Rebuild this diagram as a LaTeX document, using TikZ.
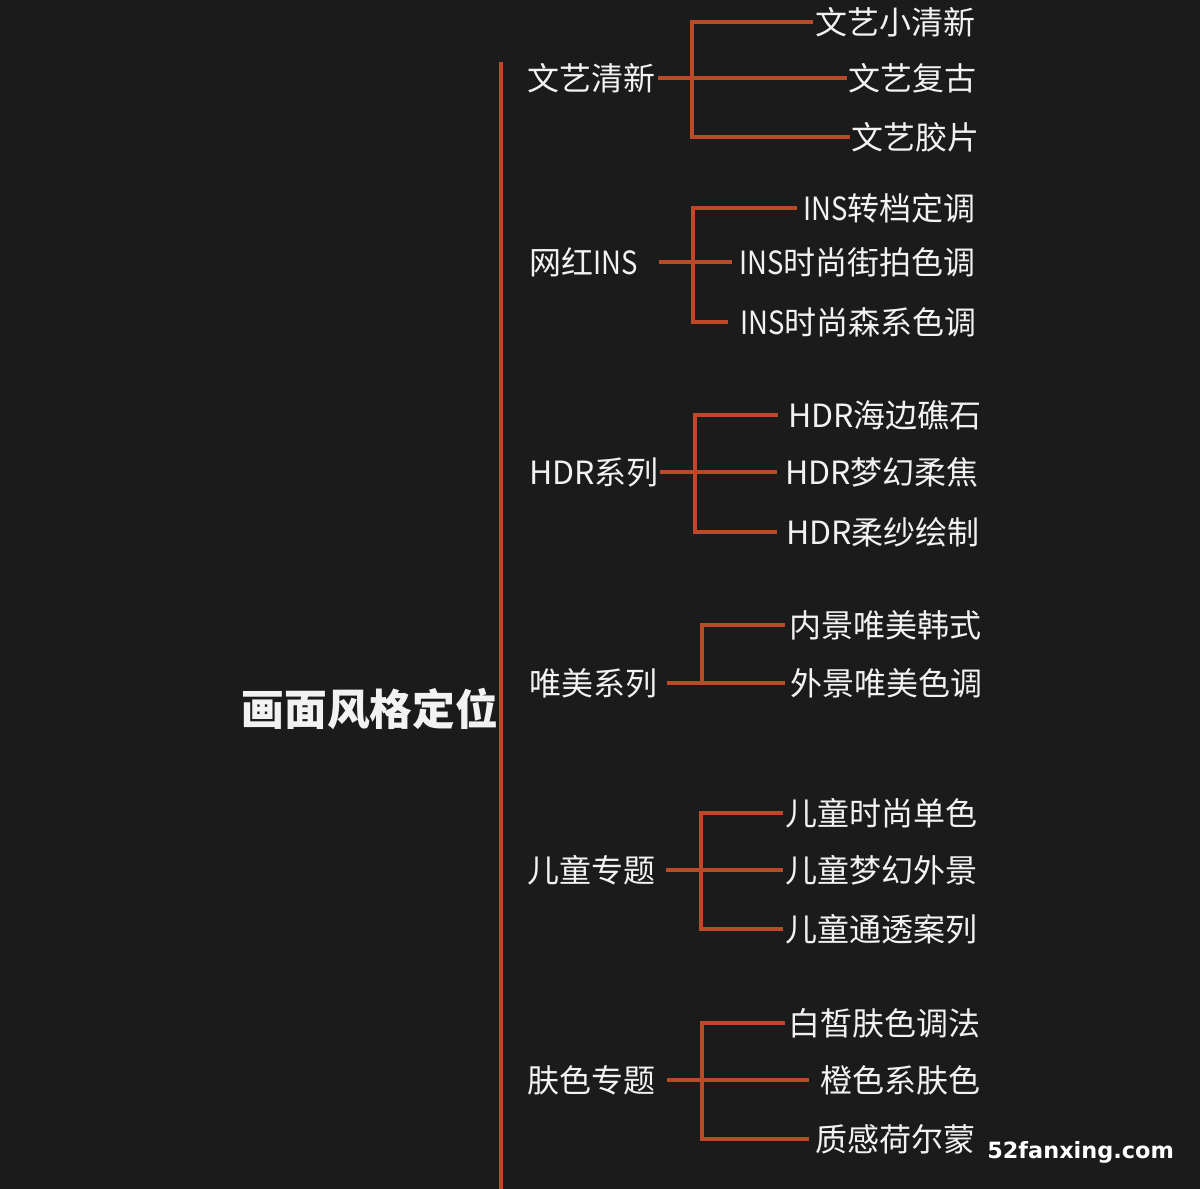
\documentclass[tikz,border=0pt]{standalone}
\usepackage{fontspec}
\usepackage{graphicx}
\newfontfamily\cjk{Noto Sans CJK SC}
\newfontfamily\wmfont{DejaVu Sans}
\definecolor{bgdark}{RGB}{27,27,27}
\definecolor{lineorange}{RGB}{186,74,40}
\definecolor{txtwhite}{RGB}{242,242,242}
\newcommand\insword{\scalebox{0.86}[1]{INS}}
\begin{document}
\begin{tikzpicture}[x=0.75pt,y=-0.75pt,
  conn/.style={draw=lineorange, line width=2.3pt, line join=miter, line cap=butt},
  titlebox/.style={font=\cjk\bfseries\fontsize{32pt}{36pt}\selectfont, text=txtwhite, inner sep=0pt, anchor=east},
  cat/.style={font=\cjk\fontsize{24pt}{28pt}\selectfont, text=txtwhite, inner xsep=0pt, inner ysep=1pt, anchor=west, text width=#1, align=left},
  leaf/.style={font=\cjk\fontsize{24pt}{28pt}\selectfont, text=txtwhite, inner ysep=1pt, anchor=west, inner xsep=#1},
  leaf/.default=1.5pt,
  wmark/.style={font=\wmfont\bfseries\fontsize{16.8pt}{18pt}\selectfont, text=white, anchor=base west, inner sep=0pt}]
\path[use as bounding box, fill=bgdark] (0,0) rectangle (1200,1189);

% main spine
\coordinate (mtop) at (501,62);
\coordinate (mbot) at (501,1189);
\draw[conn] (mtop) -- (mbot);
\node[titlebox] (title) at (498,709) {画面风格定位};

% group 1
\node[cat=97.5pt] (g1) at (527,78) {文艺清新};
\node[leaf=1.5pt] (g1a) at (813,22) {文艺小清新};
\node[leaf=0.75pt] (g1b) at (847,78) {文艺复古};
\node[leaf=0.75pt] (g1c) at (850,137) {文艺胶片};
\coordinate (g1k) at (692,78);
\draw[conn] (g1.east) -- (g1b.west);
\draw[conn] (g1a.west) -- (g1a.west -| g1k) -- (g1c.west -| g1k) -- (g1c.west);

% group 2
\node[cat=96.75pt] (g2) at (529,262) {网红\insword};
\node[leaf=4.5pt] (g2a) at (797,208) {\insword 转档定调};
\node[leaf=5.25pt] (g2b) at (732,262) {\insword 时尚街拍色调};
\node[leaf=9pt] (g2c) at (728,322) {\insword 时尚森系色调};
\coordinate (g2k) at (693,262);
\draw[conn] (g2.east) -- (g2b.west);
\draw[conn] (g2a.west) -- (g2a.west -| g2k) -- (g2c.west -| g2k) -- (g2c.west);

% group 3
\node[cat=97.5pt] (g3) at (529,472) {HDR系列};
\node[leaf=7.5pt] (g3a) at (778,415) {HDR海边礁石};
\node[leaf=6pt] (g3b) at (777,472) {HDR梦幻柔焦};
\node[leaf=6.75pt] (g3c) at (777,532) {HDR柔纱绘制};
\coordinate (g3k) at (695,472);
\draw[conn] (g3.east) -- (g3b.west);
\draw[conn] (g3a.west) -- (g3a.west -| g3k) -- (g3c.west -| g3k) -- (g3c.west);

% group 4
\node[cat=102.75pt] (g4) at (529,683) {唯美系列};
\node[leaf=3pt] (g4a) at (785,625) {内景唯美韩式};
\node[leaf=3.75pt] (g4b) at (785,683) {外景唯美色调};
\coordinate (g4k) at (702,683);
\draw[conn] (g4.east) -- (g4b.west);
\draw[conn] (g4a.west) -- (g4a.west -| g4k) -- (g4k);

% group 5
\node[cat=103.5pt] (g5) at (527,870) {儿童专题};
\node[leaf=1.5pt] (g5a) at (783,813) {儿童时尚单色};
\node[leaf=1.5pt] (g5b) at (783,870) {儿童梦幻外景};
\node[leaf=1.5pt] (g5c) at (783,929) {儿童通透案列};
\coordinate (g5k) at (701,870);
\draw[conn] (g5.east) -- (g5b.west);
\draw[conn] (g5a.west) -- (g5a.west -| g5k) -- (g5c.west -| g5k) -- (g5c.west);

% group 6
\node[cat=104.25pt] (g6) at (527,1080) {肤色专题};
\node[leaf=2.25pt] (g6a) at (785,1023) {白皙肤色调法};
\node[leaf=8.25pt] (g6b) at (809,1080) {橙色系肤色};
\node[leaf=4.5pt] (g6c) at (809,1139) {质感荷尔蒙};
\coordinate (g6k) at (702,1080);
\draw[conn] (g6.east) -- (g6b.west);
\draw[conn] (g6a.west) -- (g6a.west -| g6k) -- (g6c.west -| g6k) -- (g6c.west);

% watermark
\node[wmark] (wm) at (987,1158) {52fanxing.com};
\end{tikzpicture}
\end{document}
